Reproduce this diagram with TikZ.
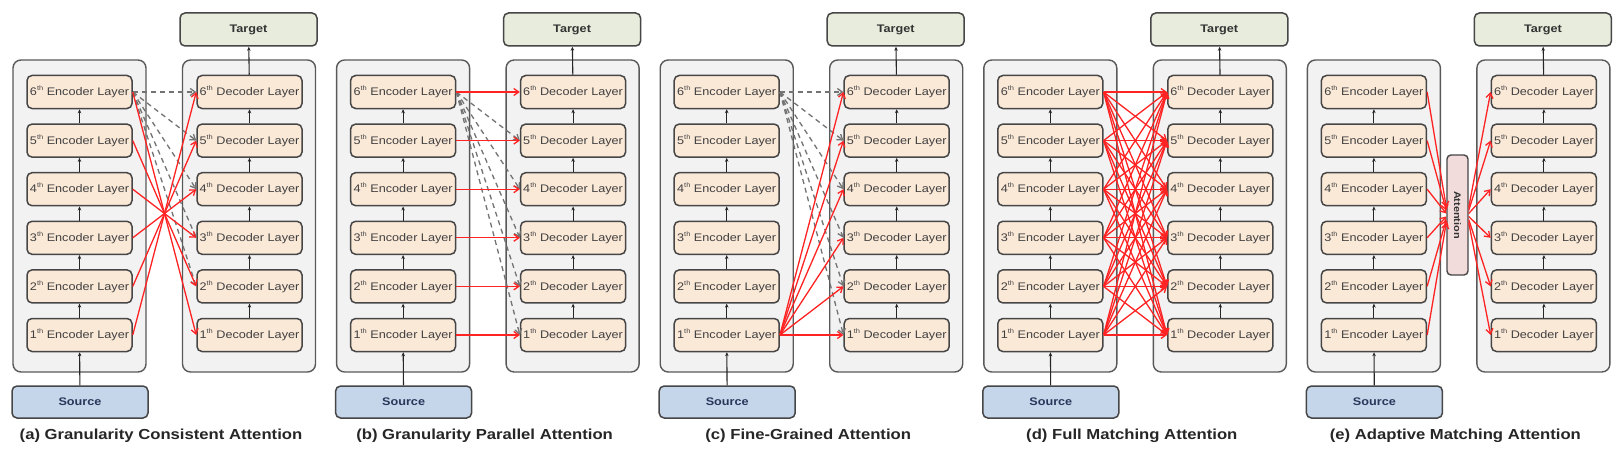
\documentclass[tikz,border=0pt]{standalone}
\usepackage{fontspec}
\setmainfont[FakeStretch=1.15]{Liberation Sans}
\usepackage{tikz}
\usetikzlibrary{arrows.meta,calc}

\definecolor{layerfill}{RGB}{251,233,216}
\definecolor{boxfill}{RGB}{242,242,242}
\definecolor{boxline}{RGB}{70,70,70}
\definecolor{srcfill}{RGB}{197,213,234}
\definecolor{tgtfill}{RGB}{231,236,220}
\definecolor{attfill}{RGB}{242,220,219}
\definecolor{attred}{RGB}{255,35,35}
\definecolor{dashgrey}{RGB}{115,115,115}

\begin{document}
\begin{tikzpicture}[x=1pt, y=-1pt,
    layer/.style={draw=boxline, line width=1.5pt, rounded corners=5pt, fill=layerfill,
                  minimum width=105pt, minimum height=33pt, inner sep=0pt,
                  text=black!75, font=\fontsize{11}{13}\selectfont},
    stackbox/.style={draw=boxline!90, line width=1.4pt, rounded corners=8pt, fill=boxfill,
                     minimum width=133pt, minimum height=312pt, inner sep=0pt},
    source/.style={draw=boxline, line width=1.5pt, rounded corners=5pt, fill=srcfill,
                   minimum width=136pt, minimum height=32pt, inner sep=0pt,
                   text={rgb,255:red,40;green,55;blue,90}, font=\fontsize{11}{12}\selectfont\bfseries},
    target/.style={draw=boxline, line width=1.5pt, rounded corners=5pt, fill=tgtfill,
                   minimum width=137pt, minimum height=33pt, inner sep=0pt,
                   text=black!80, font=\fontsize{11}{12}\selectfont\bfseries},
    attbox/.style={draw=boxline, line width=1.4pt, rounded corners=4pt, fill=attfill,
                   minimum width=21pt, minimum height=120pt, inner sep=0pt},
    caption/.style={inner sep=0pt, text=black!85, font=\fontsize{14.5}{16}\selectfont\bfseries},
    uparrow/.style={-{Stealth[length=4pt,width=3.5pt]}, line width=1.1pt, black!85},
    redarrow/.style={-{Straight Barb[length=5pt,width=7pt]}, line width=1.3pt, attred},
    dasharrow/.style={-{Straight Barb[length=5pt,width=7pt]}, line width=1.3pt, dashgrey,
                      dash pattern=on 5pt off 4pt}]

\path[use as bounding box, fill=white] (0,0) rectangle (1620,452);

% Encoder / decoder stacks of every panel
\foreach \p/\ox/\t in {a/13/Granularity Consistent Attention, b/336.6/Granularity Parallel Attention,
                       c/660.2/Fine-Grained Attention, d/983.8/Full Matching Attention,
                       e/1307.4/Adaptive Matching Attention} {
    \begin{scope}[shift={(\ox,0)}]
        \node[stackbox] (encbox\p) at (66.5,216) {};
        \node[stackbox] (decbox\p) at (236,216) {};
        \foreach \i in {1,...,6} {
            \node[layer] (enc\p\i) at (66.5,{335-48.6*(\i-1)}) {\i\raisebox{0.45em}{\fontsize{6.5}{7}\selectfont th} Encoder Layer};
            \node[layer] (dec\p\i) at (236.5,{335-48.6*(\i-1)}) {\i\raisebox{0.45em}{\fontsize{6.5}{7}\selectfont th} Decoder Layer};
        }
        \foreach \i/\j in {1/2,2/3,3/4,4/5,5/6} {
            \draw[uparrow] (enc\p\i) -- (enc\p\j);
            \draw[uparrow] (dec\p\i) -- (dec\p\j);
        }
        \node[source] (src\p) at (67,402) {Source};
        \node[target] (tgt\p) at (235.5,29.5) {Target};
        \draw[uparrow] (src\p) -- (enc\p1);
        \draw[uparrow] (dec\p6) -- (tgt\p);
        \node[caption] (cap\p) at (148,436) {(\p) \t};
    \end{scope}
}

% (a) Granularity Consistent Attention
\foreach \j in {6,...,2} {
    \draw[dasharrow] (enca6.east) -- (deca\j.west);
}
\foreach \i/\j in {1/6,2/5,3/4,4/3,5/2,6/1} {
    \draw[redarrow] (enca\i.east) -- (deca\j.west);
}

% (b) Granularity Parallel Attention
\foreach \j in {5,...,1} {
    \draw[dasharrow] (encb6.east) -- (decb\j.west);
}
\foreach \i in {1,...,6} {
    \draw[redarrow] (encb\i.east) -- (decb\i.west);
}

% (c) Fine-Grained Attention
\foreach \j in {6,...,1} {
    \draw[dasharrow] (encc6.east) -- (decc\j.west);
}
\foreach \j in {1,...,6} {
    \draw[redarrow] (encc1.east) -- (decc\j.west);
}

% (d) Full Matching Attention
\foreach \i in {1,...,6} {
    \foreach \j in {1,...,6} {
        \draw[redarrow] (encd\i.east) -- (decd\j.west);
    }
}

% (e) Adaptive Matching Attention
\node[attbox] (atte) at (1457.5,215) {};
\node[rotate=-90, inner sep=0pt, text=black!80, font=\fontsize{9.5}{11}\selectfont\bfseries] (attlabel) at (atte) {Attention};
\foreach \i in {1,...,6} {
    \draw[redarrow] (ence\i.east) -- ([yshift={(\i-3.5)*3pt}]atte.west);
    \draw[redarrow] ([yshift={(\i-3.5)*3pt}]atte.east) -- (dece\i.west);
}

\end{tikzpicture}
\end{document}
